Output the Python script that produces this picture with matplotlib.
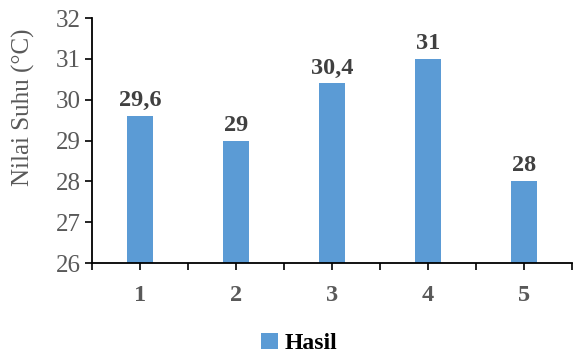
import numpy as np
import matplotlib
matplotlib.use("Agg")
import matplotlib.pyplot as plt

# Data
categories = ['1', '2', '3', '4', '5']
values = [29.6, 29, 30.4, 31, 28]
value_labels = ['29,6', '29', '30,4', '31', '28']
yticks = [26, 27, 28, 29, 30, 31, 32]

plt.rcParams['font.family'] = ['Liberation Serif', 'DejaVu Serif']

fig = plt.figure(figsize=(5.8, 3.54), dpi=100)
ax = fig.add_axes([0.1586, 0.257, 0.8276, 0.692])

x = np.arange(len(categories))
bars = ax.bar(x, [v - 26 for v in values], bottom=26, width=0.28,
              color='#5B9BD5', label='Hasil')

for xi, v, lab in zip(x, values, value_labels):
    ax.text(xi, v + 0.12, lab, ha='center', va='bottom', fontsize=17.5,
            fontweight='bold', color='#404040')

ax.set_xlim(-0.5, len(categories) - 0.5)
ax.set_ylim(26, 32)
ax.set_yticks(yticks)
ax.set_yticklabels([str(t) for t in yticks], fontsize=18, color='#595959')
ax.set_xticks(x)
ax.set_xticklabels(categories, fontsize=17.5, fontweight='bold', color='#595959')
ax.set_xticks(np.arange(-0.5, len(categories)), minor=True)
ax.tick_params(axis='x', which='major', length=5, width=1.2, pad=11)
ax.tick_params(axis='x', which='minor', length=5, width=1.2)
ax.tick_params(axis='y', length=5, width=1.2, pad=3)
ax.set_ylabel('Nilai Suhu (°C)', fontsize=18, color='#595959')
ax.yaxis.set_label_coords(-0.119, 0.637)

for side in ['top', 'right']:
    ax.spines[side].set_visible(False)
for side in ['left', 'bottom']:
    ax.spines[side].set_linewidth(1.3)

fig.legend(handles=[bars], labels=['Hasil'], loc='center', bbox_to_anchor=(0.516, 0.03),
           frameon=False, prop={'size': 17, 'weight': 'bold'},
           handlelength=0.7, handleheight=0.7, handletextpad=0.3)

fig.savefig('out.png', dpi=100)
